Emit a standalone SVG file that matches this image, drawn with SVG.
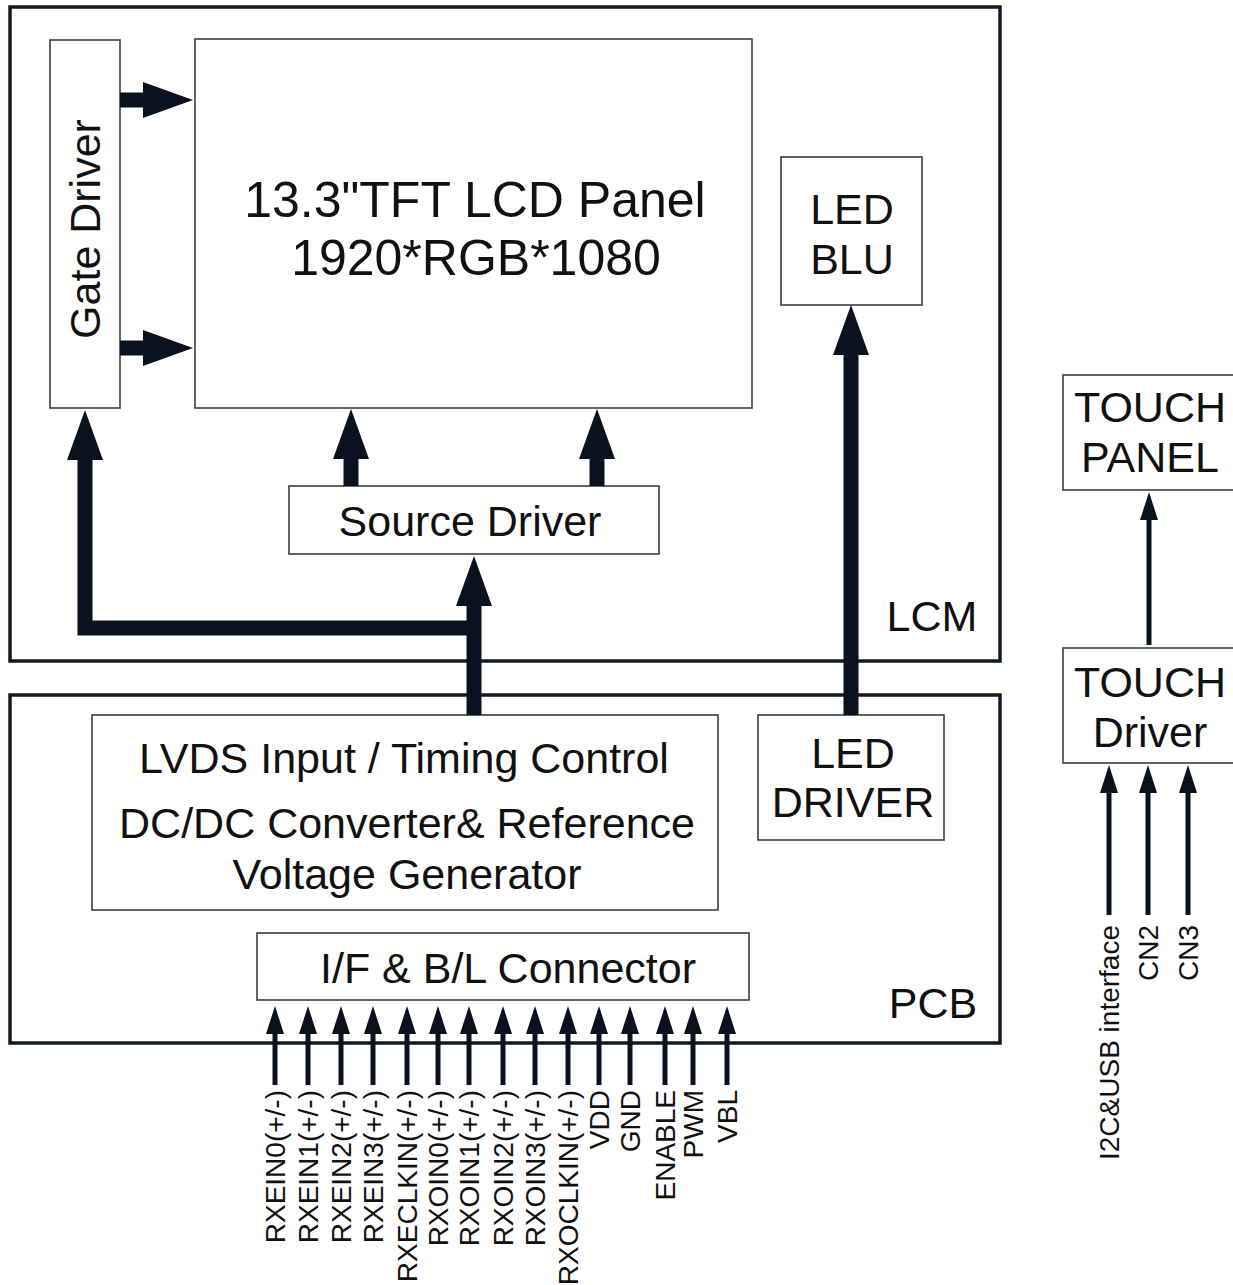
<svg xmlns="http://www.w3.org/2000/svg" width="1233" height="1285" viewBox="0 0 1233 1285">
<style>
.frame{fill:none;stroke:#141a24;stroke-width:3.5}
.box{fill:#fff;stroke:#3a3f47;stroke-width:1.6}
.t{font-family:"Liberation Sans",Arial,sans-serif;font-size:43px;fill:#111;text-anchor:middle}
.big{font-size:50px}
.p{font-family:"Liberation Sans",Arial,sans-serif;font-size:28px;fill:#111;text-anchor:end}
.bus{fill:none;stroke:#0a1220;stroke-width:15;stroke-linejoin:miter}
.thin{fill:none;stroke:#0a1220;stroke-width:5}
</style>
<defs>
<marker id="big" markerUnits="userSpaceOnUse" viewBox="0 -18 50 36" markerWidth="50" markerHeight="36" refX="0" refY="0" orient="auto" overflow="visible">
<path d="M0,-18 L50,0 L0,18 z" fill="#0a1220"/>
</marker>
<marker id="small" markerUnits="userSpaceOnUse" viewBox="0 -9 28 18" markerWidth="28" markerHeight="18" refX="0" refY="0" orient="auto" overflow="visible">
<path d="M0,-9 L28,0 L0,9 z" fill="#0a1220"/>
</marker>
</defs>

<g id="lcm">
<rect class="frame" x="10" y="7" width="990" height="654"/>
<text class="t" x="932" y="631">LCM</text>
</g>
<g id="pcb">
<rect class="frame" x="10" y="695" width="990" height="348"/>
<text class="t" x="933" y="1018">PCB</text>
</g>

<g id="gate-driver">
<rect class="box" x="50" y="40" width="70" height="368"/>
<text class="t" transform="translate(100,229) rotate(-90)">Gate Driver</text>
</g>
<g id="tft-panel">
<rect class="box" x="195" y="39" width="557" height="369"/>
<text class="t big" x="475" y="217">13.3"TFT LCD Panel</text>
<text class="t big" x="476" y="275">1920*RGB*1080</text>
</g>
<g id="led-blu">
<rect class="box" x="781" y="157" width="141" height="148"/>
<text class="t" x="852" y="224">LED</text>
<text class="t" x="852" y="274">BLU</text>
</g>
<g id="source-driver">
<rect class="box" x="289" y="486" width="370" height="68"/>
<text class="t" x="470" y="536">Source Driver</text>
</g>
<g id="lvds">
<rect class="box" x="92" y="715" width="626" height="195"/>
<text class="t" x="404" y="773">LVDS Input / Timing Control</text>
<text class="t" x="407" y="838">DC/DC Converter&amp; Reference</text>
<text class="t" x="407" y="889">Voltage Generator</text>
</g>
<g id="led-driver">
<rect class="box" x="758" y="715" width="186" height="125"/>
<text class="t" x="853" y="768">LED</text>
<text class="t" x="853" y="817">DRIVER</text>
</g>
<g id="connector">
<rect class="box" x="257" y="933" width="492" height="67"/>
<text class="t" x="508" y="983">I/F &amp; B/L Connector</text>
</g>
<g id="touch-panel">
<rect class="box" x="1063" y="375" width="172" height="115"/>
<text class="t" x="1150" y="422">TOUCH</text>
<text class="t" x="1150" y="472">PANEL</text>
</g>
<g id="touch-driver">
<rect class="box" x="1063" y="648" width="172" height="115"/>
<text class="t" x="1150" y="697">TOUCH</text>
<text class="t" x="1150" y="747">Driver</text>
</g>

<g id="connectors">
<line class="bus" x1="120" y1="100" x2="143" y2="100" marker-end="url(#big)"/>
<line class="bus" x1="120" y1="348" x2="143" y2="348" marker-end="url(#big)"/>
<line class="bus" x1="351" y1="486" x2="351" y2="459" marker-end="url(#big)"/>
<line class="bus" x1="597" y1="486" x2="597" y2="459" marker-end="url(#big)"/>
<polyline class="bus" points="474,628 85,628 85,460" marker-end="url(#big)"/>
<line class="bus" x1="474" y1="715" x2="474" y2="606" marker-end="url(#big)"/>
<line class="bus" x1="851" y1="715" x2="851" y2="355" marker-end="url(#big)"/>

<line class="thin" x1="1149" y1="645" x2="1149" y2="520" marker-end="url(#small)"/>
<line class="thin" x1="1109" y1="915" x2="1109" y2="793" marker-end="url(#small)"/>
<line class="thin" x1="1148" y1="915" x2="1148" y2="793" marker-end="url(#small)"/>
<line class="thin" x1="1188" y1="915" x2="1188" y2="793" marker-end="url(#small)"/>

<line class="thin" x1="275" y1="1085" x2="275" y2="1034" marker-end="url(#small)"/>
<line class="thin" x1="308" y1="1085" x2="308" y2="1034" marker-end="url(#small)"/>
<line class="thin" x1="341" y1="1085" x2="341" y2="1034" marker-end="url(#small)"/>
<line class="thin" x1="373" y1="1085" x2="373" y2="1034" marker-end="url(#small)"/>
<line class="thin" x1="407" y1="1085" x2="407" y2="1034" marker-end="url(#small)"/>
<line class="thin" x1="438" y1="1085" x2="438" y2="1034" marker-end="url(#small)"/>
<line class="thin" x1="469" y1="1085" x2="469" y2="1034" marker-end="url(#small)"/>
<line class="thin" x1="503" y1="1085" x2="503" y2="1034" marker-end="url(#small)"/>
<line class="thin" x1="535" y1="1085" x2="535" y2="1034" marker-end="url(#small)"/>
<line class="thin" x1="568" y1="1085" x2="568" y2="1034" marker-end="url(#small)"/>
<line class="thin" x1="599" y1="1085" x2="599" y2="1034" marker-end="url(#small)"/>
<line class="thin" x1="630" y1="1085" x2="630" y2="1034" marker-end="url(#small)"/>
<line class="thin" x1="665" y1="1085" x2="665" y2="1034" marker-end="url(#small)"/>
<line class="thin" x1="693" y1="1085" x2="693" y2="1034" marker-end="url(#small)"/>
<line class="thin" x1="727" y1="1085" x2="727" y2="1034" marker-end="url(#small)"/>
</g>

<g id="pin-labels">
<text class="p" transform="translate(285,1090) rotate(-90)">RXEIN0(+/-)</text>
<text class="p" transform="translate(318,1090) rotate(-90)">RXEIN1(+/-)</text>
<text class="p" transform="translate(351,1090) rotate(-90)">RXEIN2(+/-)</text>
<text class="p" transform="translate(383,1090) rotate(-90)">RXEIN3(+/-)</text>
<text class="p" transform="translate(417,1090) rotate(-90)">RXECLKIN(+/-)</text>
<text class="p" transform="translate(448,1090) rotate(-90)">RXOIN0(+/-)</text>
<text class="p" transform="translate(479,1090) rotate(-90)">RXOIN1(+/-)</text>
<text class="p" transform="translate(513,1090) rotate(-90)">RXOIN2(+/-)</text>
<text class="p" transform="translate(545,1090) rotate(-90)">RXOIN3(+/-)</text>
<text class="p" transform="translate(578,1090) rotate(-90)">RXOCLKIN(+/-)</text>
<text class="p" transform="translate(609,1090) rotate(-90)">VDD</text>
<text class="p" transform="translate(640,1090) rotate(-90)">GND</text>
<text class="p" transform="translate(675,1090) rotate(-90)">ENABLE</text>
<text class="p" transform="translate(703,1090) rotate(-90)">PWM</text>
<text class="p" transform="translate(737,1090) rotate(-90)">VBL</text>
<text class="p" transform="translate(1119,925) rotate(-90)">I2C&amp;USB interface</text>
<text class="p" transform="translate(1158,925) rotate(-90)">CN2</text>
<text class="p" transform="translate(1198,925) rotate(-90)">CN3</text>
</g>
</svg>
